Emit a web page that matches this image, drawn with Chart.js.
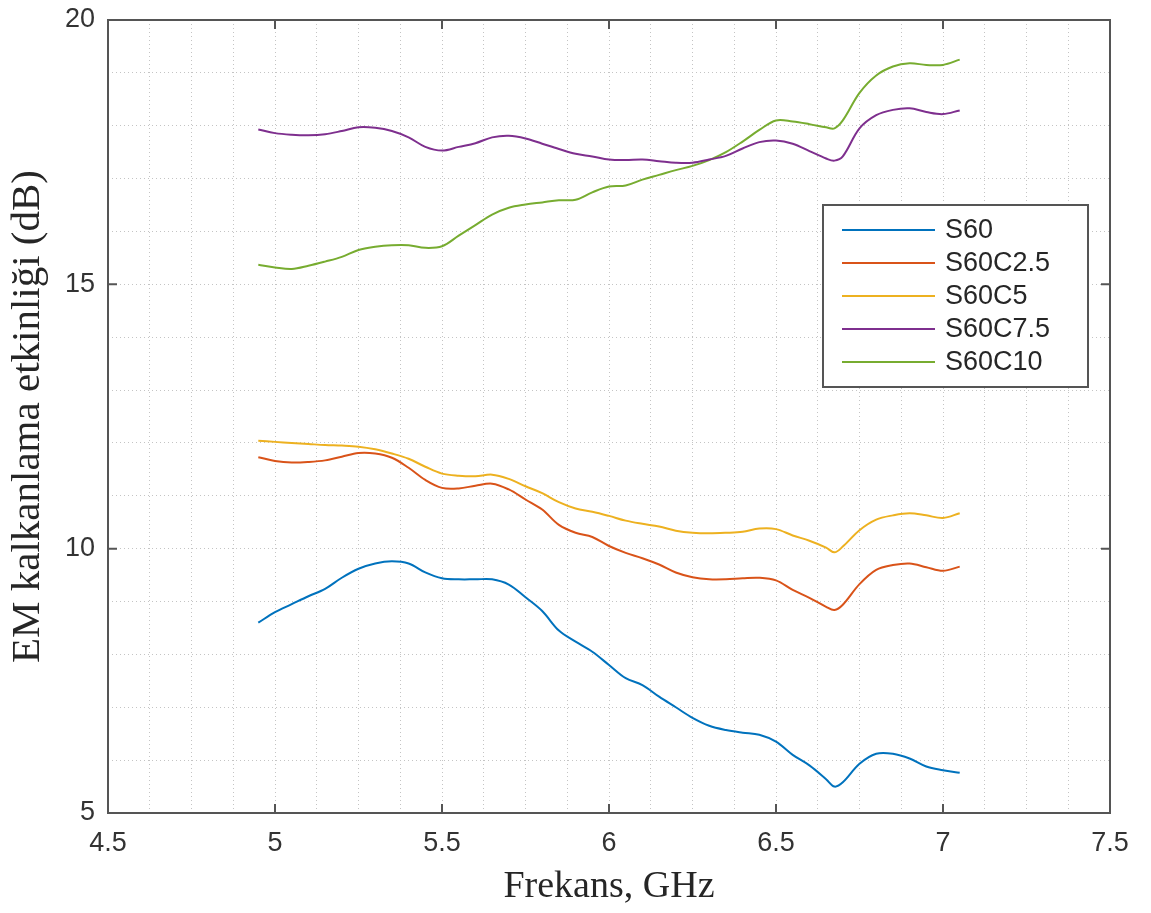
<!DOCTYPE html>
<html>
<head>
<meta charset="utf-8">
<script src="https://cdn.jsdelivr.net/npm/chart.js@4"></script>
<style>
  body { margin: 0; background: #fff; }
  #wrap { width: 1151px; height: 913px; }
</style>
</head>
<body>
<div id="wrap"><canvas id="grafico"></canvas></div>
<script>
// frekans (GHz)
const frekans = [4.95, 5.0, 5.05, 5.1, 5.15, 5.2, 5.25, 5.3, 5.35, 5.4, 5.45, 5.5, 5.55, 5.6, 5.65, 5.7, 5.75, 5.8, 5.85, 5.9, 5.95, 6.0, 6.05, 6.1, 6.15, 6.2, 6.25, 6.3, 6.35, 6.4, 6.45, 6.5, 6.55, 6.6, 6.65, 6.675, 6.7, 6.75, 6.8, 6.85, 6.9, 6.95, 7.0, 7.05];

const s60 = [8.60, 8.80, 8.95, 9.10, 9.24, 9.45, 9.62, 9.72, 9.76, 9.72, 9.55, 9.44, 9.42, 9.42, 9.42, 9.32, 9.08, 8.82, 8.45, 8.24, 8.05, 7.80, 7.55, 7.42, 7.20, 7.00, 6.80, 6.65, 6.57, 6.52, 6.48, 6.35, 6.10, 5.90, 5.64, 5.50, 5.58, 5.93, 6.12, 6.12, 6.03, 5.88, 5.81, 5.76];
const s60c25 = [11.73, 11.66, 11.63, 11.64, 11.67, 11.74, 11.81, 11.80, 11.72, 11.53, 11.30, 11.15, 11.14, 11.19, 11.23, 11.12, 10.93, 10.74, 10.45, 10.30, 10.22, 10.05, 9.92, 9.82, 9.70, 9.55, 9.46, 9.42, 9.42, 9.44, 9.45, 9.40, 9.22, 9.07, 8.90, 8.84, 8.94, 9.33, 9.60, 9.69, 9.72, 9.65, 9.58, 9.66];
const s60c5 = [12.04, 12.02, 12.00, 11.98, 11.96, 11.95, 11.93, 11.88, 11.80, 11.70, 11.55, 11.42, 11.38, 11.37, 11.40, 11.32, 11.18, 11.05, 10.88, 10.76, 10.70, 10.62, 10.53, 10.47, 10.42, 10.34, 10.30, 10.29, 10.30, 10.32, 10.38, 10.37, 10.25, 10.15, 10.02, 9.93, 10.04, 10.35, 10.55, 10.63, 10.67, 10.63, 10.58, 10.67];
const s60c75 = [17.93, 17.86, 17.83, 17.82, 17.84, 17.90, 17.97, 17.96, 17.90, 17.78, 17.60, 17.53, 17.60, 17.67, 17.78, 17.81, 17.76, 17.66, 17.56, 17.47, 17.42, 17.36, 17.35, 17.36, 17.33, 17.30, 17.30, 17.36, 17.43, 17.57, 17.69, 17.72, 17.66, 17.52, 17.38, 17.34, 17.42, 17.95, 18.20, 18.30, 18.33, 18.26, 18.22, 18.29];
const s60c10 = [15.37, 15.32, 15.29, 15.35, 15.43, 15.52, 15.65, 15.71, 15.74, 15.74, 15.69, 15.72, 15.92, 16.12, 16.32, 16.45, 16.51, 16.55, 16.59, 16.60, 16.74, 16.85, 16.87, 16.98, 17.07, 17.16, 17.24, 17.35, 17.50, 17.70, 17.92, 18.10, 18.08, 18.03, 17.97, 17.95, 18.10, 18.62, 18.95, 19.12, 19.18, 19.15, 19.15, 19.25];

const nomes = ['S60', 'S60C2.5', 'S60C5', 'S60C7.5', 'S60C10'];
const cores = ['#0072BD', '#D95319', '#EDB120', '#7E2F8E', '#77AC30'];
const xTicks = [4.5, 5, 5.5, 6, 6.5, 7, 7.5];
const yTicks = [5, 10, 15, 20];

const corEixo = '#555555';
const fonteNumeros = '27px "Liberation Sans", Arial, sans-serif';

function montaSerie(valores) {
  return frekans.map((f, i) => ({ x: f, y: valores[i] }));
}

function semPadding(scale) {
  scale.paddingTop = 0;
  scale.paddingBottom = 0;
  scale.paddingLeft = 0;
  scale.paddingRight = 0;
}

// caixa do eixo + ticks para dentro (estilo matlab)
const caixaEixo = {
  id: 'caixaEixo',
  afterDatasetsDraw(chart) {
    const ctx = chart.ctx;
    const a = chart.chartArea;
    const sx = chart.scales.x;
    const sy = chart.scales.y;
    ctx.save();
    ctx.strokeStyle = corEixo;
    ctx.lineWidth = 2;
    ctx.strokeRect(a.left, a.top, a.right - a.left, a.bottom - a.top);
    ctx.beginPath();
    xTicks.forEach((v) => {
      const px = sx.getPixelForValue(v);
      ctx.moveTo(px, a.bottom);
      ctx.lineTo(px, a.bottom - 9);
      ctx.moveTo(px, a.top);
      ctx.lineTo(px, a.top + 9);
    });
    yTicks.forEach((v) => {
      const py = sy.getPixelForValue(v);
      ctx.moveTo(a.left, py);
      ctx.lineTo(a.left + 9, py);
      ctx.moveTo(a.right, py);
      ctx.lineTo(a.right - 9, py);
    });
    ctx.stroke();
    ctx.restore();
  },
};

const legendaCaixa = {
  id: 'legendaCaixa',
  afterDraw(chart) {
    const ctx = chart.ctx;
    const x0 = 823, y0 = 205, w = 265, passo = 33;
    const conjuntos = chart.data.datasets;
    const h = 50 + passo * (conjuntos.length - 1);
    ctx.save();
    ctx.fillStyle = '#ffffff';
    ctx.fillRect(x0, y0, w, h);
    ctx.strokeStyle = corEixo;
    ctx.lineWidth = 2;
    ctx.strokeRect(x0, y0, w, h);
    ctx.font = fonteNumeros;
    ctx.textBaseline = 'middle';
    ctx.textAlign = 'left';
    conjuntos.forEach((ds, i) => {
      const cy = y0 + 25 + i * passo;
      ctx.strokeStyle = ds.borderColor;
      ctx.lineWidth = 2;
      ctx.beginPath();
      ctx.moveTo(x0 + 19, cy);
      ctx.lineTo(x0 + 112, cy);
      ctx.stroke();
      ctx.fillStyle = '#262626';
      ctx.fillText(ds.label, x0 + 122, cy + 1);
    });
    ctx.restore();
  },
};

const datasets = [s60, s60c25, s60c5, s60c75, s60c10].map((serie, i) => ({
  label: nomes[i],
  data: montaSerie(serie),
  borderColor: cores[i],
  borderWidth: 2,
  pointRadius: 0,
  tension: 0.35,
  fill: false,
}));

new Chart(document.getElementById('grafico'), {
  type: 'line',
  data: { datasets: datasets },
  options: {
    responsive: true,
    maintainAspectRatio: false,
    animation: false,
    layout: { padding: { top: 20, right: 41, left: 0, bottom: 0 } },
    plugins: {
      legend: { display: false },
      tooltip: { enabled: false },
    },
    scales: {
      x: {
        type: 'linear',
        min: 4.5,
        max: 7.5,
        afterFit: (scale) => { scale.height = 100; semPadding(scale); },
        grid: { color: '#c4c4c4', lineWidth: 1, drawTicks: false },
        border: { display: false, dash: [1, 3] },
        ticks: {
          stepSize: 0.125,
          autoSkip: false,
          maxRotation: 0,
          padding: 14,
          color: '#333333',
          font: { family: '"Liberation Sans", Arial, sans-serif', size: 27 },
          callback: (v) => (Math.abs(v * 2 - Math.round(v * 2)) < 1e-9 ? String(v) : ''),
        },
        title: {
          display: true,
          text: 'Frekans, GHz',
          color: '#262626',
          font: { family: '"Liberation Serif", "Times New Roman", serif', size: 38 },
          padding: { top: 0, bottom: 3 },
        },
      },
      y: {
        type: 'linear',
        min: 5,
        max: 20,
        afterFit: (scale) => { scale.width = 108; semPadding(scale); },
        grid: { color: '#c4c4c4', lineWidth: 1, drawTicks: false },
        border: { display: false, dash: [1, 3] },
        ticks: {
          stepSize: 1,
          autoSkip: false,
          padding: 13,
          color: '#333333',
          font: { family: '"Liberation Sans", Arial, sans-serif', size: 27 },
          callback: (v) => (v % 5 === 0 ? String(v) : ''),
        },
        title: {
          display: true,
          text: 'EM kalkanlama etkinliği (dB)',
          color: '#262626',
          font: { family: '"Liberation Serif", "Times New Roman", serif', size: 41 },
          padding: { top: 4, bottom: 0 },
        },
      },
    },
  },
  plugins: [caixaEixo, legendaCaixa],
});
</script>
</body>
</html>
